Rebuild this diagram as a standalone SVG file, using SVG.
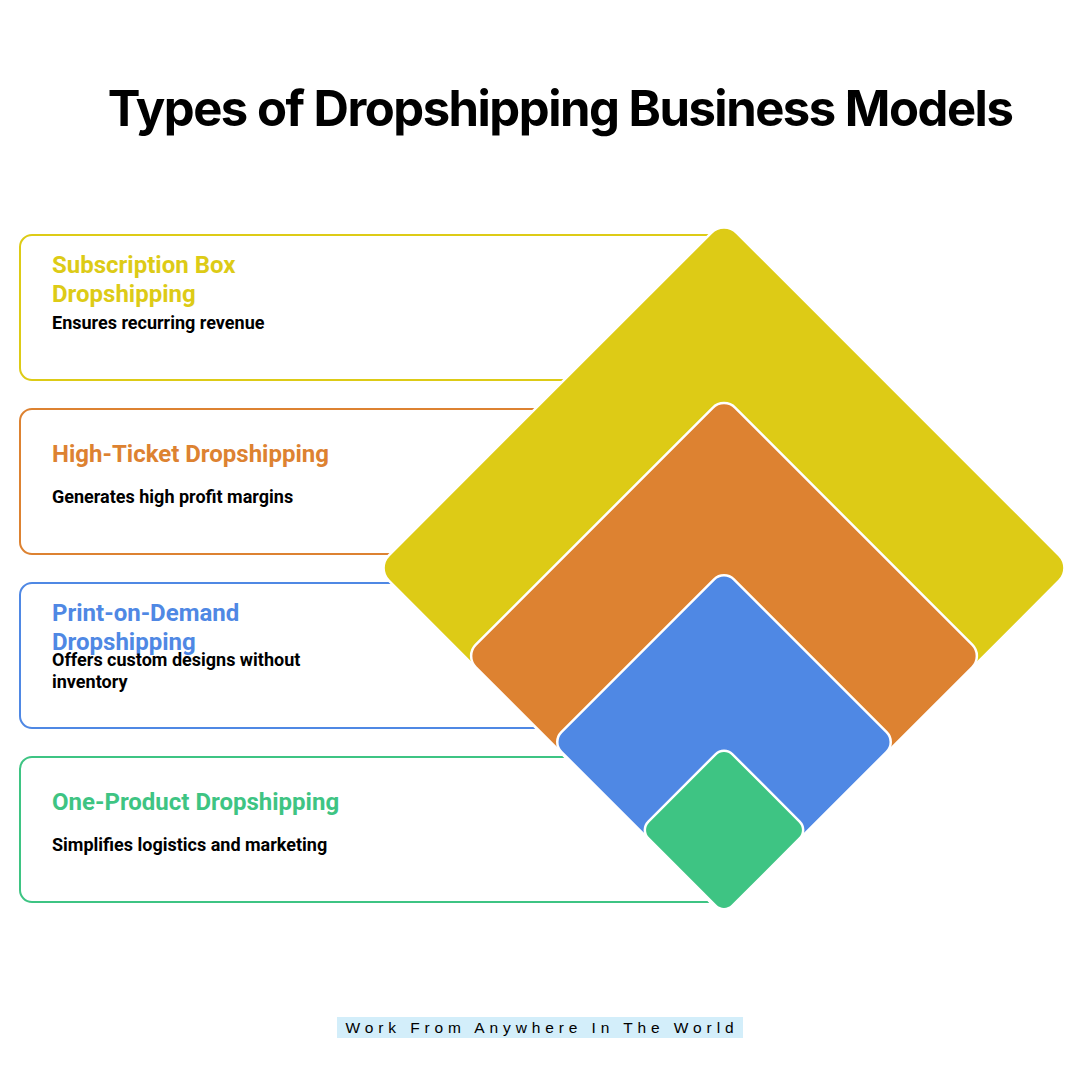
<svg xmlns="http://www.w3.org/2000/svg" width="1080" height="1080" viewBox="0 0 1080 1080">
<style>
.box{fill:#fff;stroke-width:2}
.t{font-family:Roboto,"Liberation Sans",sans-serif;font-weight:700;font-size:24px}
.d{font-family:Roboto,"Liberation Sans",sans-serif;font-weight:700;font-size:18px;fill:#000}
.dia{stroke:#fff;stroke-width:2.5}
</style>
<rect width="1080" height="1080" fill="#fff"/>
<text x="560" y="126" text-anchor="middle" font-family="Inter,'Liberation Sans',sans-serif" font-weight="700" font-size="49" letter-spacing="-1.5" fill="#000">Types of Dropshipping Business Models</text>
<g id="box-subscription"><rect class="box" x="20" y="235" width="700" height="145" rx="12" stroke="#DDCB16"/>
<text class="t" fill="#DDCB16" x="52" y="273">Subscription Box</text><text class="t" fill="#DDCB16" x="52" y="302">Dropshipping</text>
<text class="d" x="52" y="329">Ensures recurring revenue</text></g>
<g id="box-highticket"><rect class="box" x="20" y="409" width="700" height="145" rx="12" stroke="#DD8231"/>
<text class="t" fill="#DD8231" x="52" y="462">High-Ticket Dropshipping</text>
<text class="d" x="52" y="503">Generates high profit margins</text></g>
<g id="box-pod"><rect class="box" x="20" y="583" width="700" height="145" rx="12" stroke="#4F88E4"/>
<text class="t" fill="#4F88E4" x="52" y="621">Print-on-Demand</text><text class="t" fill="#4F88E4" x="52" y="650">Dropshipping</text>
<text class="d" x="52" y="666">Offers custom designs without</text><text class="d" x="52" y="688">inventory</text></g>
<g id="box-oneproduct"><rect class="box" x="20" y="757" width="700" height="145" rx="12" stroke="#3EC483"/>
<text class="t" fill="#3EC483" x="52" y="810">One-Product Dropshipping</text>
<text class="d" x="52" y="851">Simplifies logistics and marketing</text></g>
<g id="diamond-yellow"><rect class="dia" fill="#DDCB16" x="478" y="322" width="492" height="492" rx="18" transform="rotate(45 724 568)"/></g>
<g id="diamond-orange"><rect class="dia" fill="#DD8231" x="540.5" y="472.5" width="367" height="367" rx="16" transform="rotate(45 724 656)"/></g>
<g id="diamond-blue"><rect class="dia" fill="#4F88E4" x="602" y="620" width="244" height="244" rx="14" transform="rotate(45 724 742)"/></g>
<g id="diamond-green"><rect class="dia" fill="#3EC483" x="664.5" y="770.5" width="119" height="119" rx="12" transform="rotate(45 724 830)"/></g>
<g id="connectors"/>
<g id="footer"><rect x="337" y="1017" width="406" height="21" fill="#D3EEFA"/>
<text x="542" y="1033" text-anchor="middle" font-family="'Liberation Sans',sans-serif" font-size="15.5" letter-spacing="4.9" fill="#000">Work From Anywhere In The World</text></g>
</svg>
